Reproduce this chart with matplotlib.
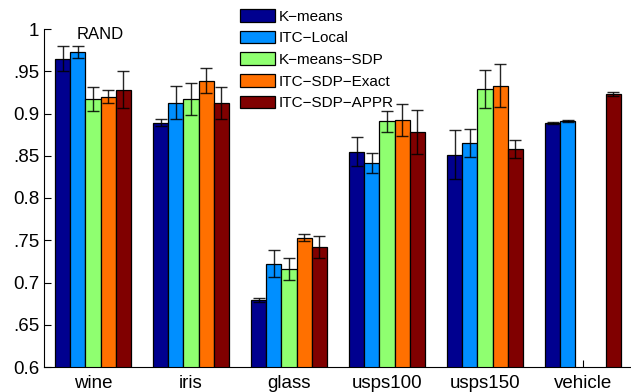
import numpy as np
import matplotlib
matplotlib.use('Agg')
import matplotlib.pyplot as plt

plt.rcParams['font.family'] = ['Liberation Sans', 'DejaVu Sans']

# data (RAND index)
datasets = ['wine', 'iris', 'glass', 'usps100', 'usps150', 'vehicle']
methods = ['K\u2212means', 'ITC\u2212Local', 'K\u2212means\u2212SDP',
           'ITC\u2212SDP\u2212Exact', 'ITC\u2212SDP\u2212APPR']

kmeans      = [0.965, 0.889, 0.679, 0.855, 0.851, 0.889]
itc_local   = [0.973, 0.913, 0.722, 0.841, 0.865, 0.891]
kmeans_sdp  = [0.917, 0.917, 0.716, 0.891, 0.929, np.nan]
itc_exact   = [0.920, 0.939, 0.753, 0.892, 0.933, np.nan]
itc_appr    = [0.928, 0.912, 0.742, 0.878, 0.858, 0.923]

kmeans_err     = [0.015, 0.004, 0.0025, 0.017, 0.029, 0.001]
itc_local_err  = [0.007, 0.019, 0.016, 0.012, 0.0165, 0.001]
kmeans_sdp_err = [0.014, 0.019, 0.0125, 0.0125, 0.0225, np.nan]
itc_exact_err  = [0.008, 0.015, 0.004, 0.019, 0.0255, np.nan]
itc_appr_err   = [0.022, 0.019, 0.0135, 0.026, 0.011, 0.0025]

colors = ['#00008F', '#008FFF', '#8FFF70', '#FF7000', '#800000']

values = [kmeans, itc_local, kmeans_sdp, itc_exact, itc_appr]
errors = [kmeans_err, itc_local_err, kmeans_sdp_err, itc_exact_err, itc_appr_err]

fig = plt.figure(figsize=(6.31, 3.92), dpi=100)
ax = fig.add_axes([44/631, 25/392, 588/631, 338/392])

x = np.arange(1, len(datasets) + 1)
w = 0.155
handles = []
for i in range(5):
    pos = x + (i - 2) * w
    b = ax.bar(pos, values[i], w, color=colors[i], edgecolor='black',
               linewidth=0.9, label=methods[i], zorder=2)
    ax.errorbar(pos, values[i], yerr=errors[i], fmt='none', ecolor='black',
                elinewidth=1.0, capsize=4, capthick=1.0, alpha=0.85, zorder=3)
    handles.append(b)

ax.set_xlim(0.5, 6.5)
ax.set_ylim(0.6, 1.0)
ax.set_xticks(x)
ax.set_xticklabels(datasets, fontsize=13.5)
yt = [0.6, 0.65, 0.7, 0.75, 0.8, 0.85, 0.9, 0.95, 1.0]
ax.set_yticks(yt)
ax.set_yticklabels(['0.6', '.65', '0.7', '.75', '0.8', '.85', '0.9', '.95', '1'],
                   fontsize=13.5)
ax.tick_params(direction='in', length=5, width=0.8)
ax.tick_params(axis='x', pad=6)
ax.set_axisbelow(True)
ax.spines['top'].set_visible(False)
ax.spines['right'].set_visible(False)

ax.text(1.07, 0.993, 'RAND', ha='center', va='center', fontsize=12)

fig.legend(handles=handles, loc='upper left', bbox_to_anchor=(231/631, 1.0),
           frameon=False, fontsize=11, handlelength=2.3, handleheight=0.9,
           handletextpad=0.25, labelspacing=0.46, borderaxespad=0.2)

fig.savefig('out.png', dpi=100)
